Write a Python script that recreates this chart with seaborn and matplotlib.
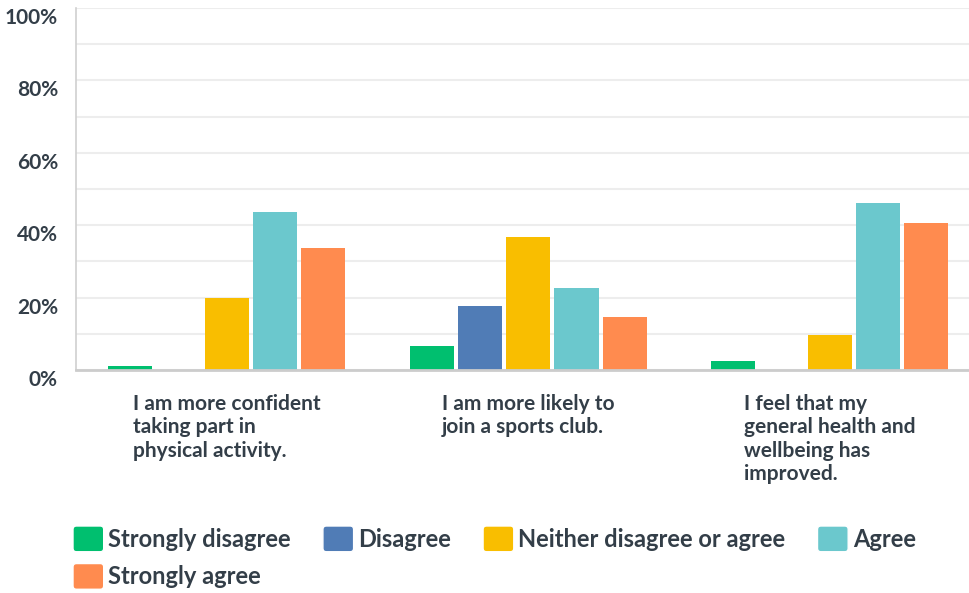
import matplotlib
matplotlib.use("Agg")
import matplotlib.pyplot as plt
import matplotlib.patches as mpatches
from matplotlib.legend_handler import HandlerPatch
from matplotlib.transforms import ScaledTranslation
from matplotlib.ticker import MultipleLocator, FuncFormatter
import seaborn as sns
import pandas as pd

statements = [
    "I am more confident\ntaking part in\nphysical activity.",
    "I am more likely to\njoin a sports club.",
    "I feel that my\ngeneral health and\nwellbeing has\nimproved.",
]
responses = ["Strongly disagree", "Disagree", "Neither disagree or agree", "Agree", "Strongly agree"]
strongly_disagree = [1.1, 6.6, 2.5]
disagree = [0.0, 17.7, 0.0]
neither = [19.8, 36.7, 9.7]
agree = [43.6, 22.6, 46.1]
strongly_agree = [33.7, 14.6, 40.6]
colors = ["#00BF6F", "#507CB6", "#F9BE00", "#6BC8CD", "#FF8B4F"]

series = [strongly_disagree, disagree, neither, agree, strongly_agree]
rows = []
for resp, vals in zip(responses, series):
    for st, v in zip(statements, vals):
        rows.append({"statement": st, "response": resp, "pct": v})
df = pd.DataFrame(rows)

sns.set_theme(style="white")
plt.rcParams["font.family"] = ["Lato", "DejaVu Sans"]
text_color = "#333E48"

fig = plt.figure(figsize=(9.69, 5.93), dpi=100)
ax = fig.add_axes([76 / 969, 1 - 370 / 593, 1 - 76 / 969, (370 - 8) / 593])

sns.barplot(data=df, x="statement", y="pct", hue="response", order=statements,
            hue_order=responses, palette=colors, width=0.8, gap=0.08,
            saturation=1, legend=False, ax=ax, linewidth=0, edgecolor="none")

ax.set_xlim(-0.5, 2.462)
ax.set_ylim(0, 100)
ax.set_xlabel("")
ax.set_ylabel("")
ax.yaxis.set_major_locator(MultipleLocator(20))
ax.yaxis.set_minor_locator(MultipleLocator(10))
ax.yaxis.set_major_formatter(FuncFormatter(lambda v, p: f"{int(v)}%"))
ax.grid(True, axis="y", which="both", color="#EDEDED", linewidth=1.5)
ax.set_axisbelow(True)
for s in ["top", "right"]:
    ax.spines[s].set_visible(False)
ax.spines["left"].set_color("#D0D0D0")
ax.spines["left"].set_linewidth(1.2)
ax.spines["bottom"].set_color("#CCCCCC")
ax.spines["bottom"].set_linewidth(2)
ax.spines["bottom"].set_zorder(5)

ax.tick_params(axis="y", which="both", length=0, pad=13, labelsize=15, labelcolor=text_color)
ax.tick_params(axis="x", length=0, pad=17, labelsize=15, labelcolor=text_color)
for lab in ax.get_yticklabels():
    lab.set_fontweight("bold")
    lab.set_transform(lab.get_transform() + ScaledTranslation(0, -8 / 100, fig.dpi_scale_trans))
for lab in ax.get_xticklabels():
    lab.set_fontweight("bold")
    lab.set_multialignment("left")
    lab.set_linespacing(1.22)


def make_patch(legend, orig_handle, xdescent, ydescent, width, height, fontsize):
    return mpatches.FancyBboxPatch((-xdescent, -ydescent), width, height,
                                   boxstyle="round,pad=0,rounding_size=2.5",
                                   facecolor=orig_handle.get_facecolor(), edgecolor="none")


handles = [mpatches.Patch(facecolor=c, label=r) for c, r in zip(colors, responses)]
# matplotlib fills legend columns first; reorder so rows read left to right
order = [0, 4, 1, 2, 3]
handles = [handles[i] for i in order]
leg = fig.legend(handles=handles, loc="upper left", bbox_to_anchor=(73 / 969, 1 - 526 / 593),
                 ncol=4, frameon=False, fontsize=17, handlelength=1.3, handleheight=1.3,
                 handletextpad=0.2, columnspacing=1.35, labelspacing=0.5, borderpad=0,
                 borderaxespad=0,
                 handler_map={mpatches.Patch: HandlerPatch(patch_func=make_patch)})
for t in leg.get_texts():
    t.set_color(text_color)
    t.set_fontweight("bold")

fig.savefig("out.png", dpi=100)
